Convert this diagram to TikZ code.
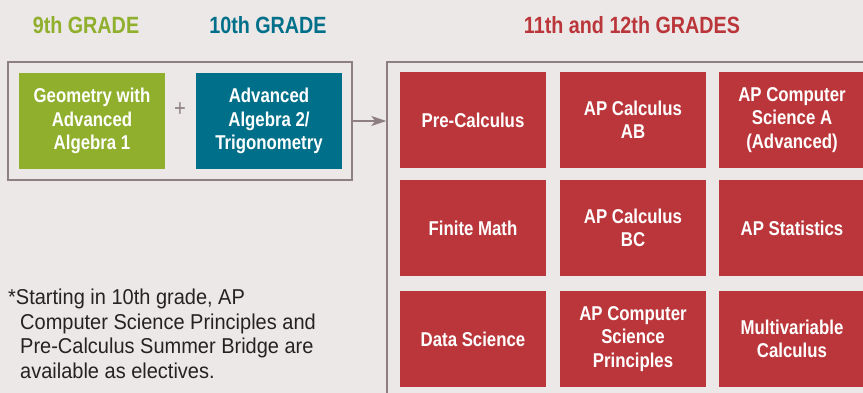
\documentclass[tikz,border=0pt]{standalone}
\usepackage{fontspec}
\setmainfont{Liberation Sans}[FakeStretch=0.84]
\newfontfamily\notefont{Liberation Sans}[FakeStretch=0.93]
\usetikzlibrary{arrows.meta}

\definecolor{pagebg}{RGB}{236,232,231}
\definecolor{framegray}{RGB}{142,128,130}
\definecolor{geomgreen}{RGB}{143,175,45}
\definecolor{algteal}{RGB}{0,112,138}
\definecolor{upperred}{RGB}{187,54,58}
\definecolor{notegray}{RGB}{38,34,35}

\begin{document}
\begin{tikzpicture}[
  x=1pt,
  y=-1pt,
  font=\bfseries,
  course/.style={
    rectangle,
    minimum width=146pt,
    minimum height=96pt,
    inner sep=0pt,
    align=center,
    text=white,
    font=\fontsize{20}{23.5}\selectfont\bfseries
  },
  elective/.style={course, fill=upperred},
  grade/.style={font=\fontsize{23.5}{27}\selectfont\bfseries},
  frame/.style={draw=framegray, line width=1.5pt},
  note/.style={font=\notefont\fontsize{21.5}{24.5}\selectfont,
    align=left, inner sep=0pt, text=notegray}
]

\fill[pagebg] (0,0) rectangle (863,393);
\clip (0,0) rectangle (863,393);

% Grade headings.
\node[grade, text=geomgreen] (g9) at (86,25) {9th GRADE};
\node[grade, text=algteal] (g10) at (268,25) {10th GRADE};
\node[grade, text=upperred] (g11) at (632,25) {11th and 12th GRADES};

% Frames; the upper one runs off the page.
\node[frame, minimum width=344pt, minimum height=118pt, inner sep=0pt]
  (early) at (180,121) {};
\node[frame, minimum width=513pt, minimum height=358pt, inner sep=0pt]
  (later) at (643.5,241) {};

\draw[frame, -{Stealth[length=15pt, width=10pt, inset=4pt]}]
  (early.east) -- (early.east -| later.west);

% 9th and 10th grade courses.
\node[course, fill=geomgreen] (geom) at (92,121)
  {Geometry with\\Advanced\\Algebra 1};
\node[font=\fontsize{24}{24}\selectfont\mdseries, text=framegray]
  (plus) at (180,110) {+};
\node[course, fill=algteal] (alg) at (269,121)
  {Advanced\\Algebra 2/\\Trigonometry};

% 11th and 12th grade courses.
\node[elective] (precalc) at (473,120) {Pre-Calculus};
\node[elective] (calcab) at (633,120) {AP Calculus\\AB};
\node[elective] (csa) at (792,120) {AP Computer\\Science A\\(Advanced)};

\node[elective] (finite) at (473,228) {Finite Math};
\node[elective] (calcbc) at (633,228) {AP Calculus\\BC};
\node[elective] (stats) at (792,228) {AP Statistics};

\node[elective] (datasci) at (473,339) {Data Science};
\node[elective] (csp) at (633,339) {AP Computer\\Science\\Principles};
\node[elective] (multi) at (792,339) {Multivariable\\Calculus};

% Footnote.
\node[note, anchor=north west] (foot) at (8,289)
  {*Starting in 10th grade, AP\\
   \hspace*{12pt}Computer Science Principles and\\
   \hspace*{12pt}Pre-Calculus Summer Bridge are\\
   \hspace*{12pt}available as electives.};

\end{tikzpicture}
\end{document}
